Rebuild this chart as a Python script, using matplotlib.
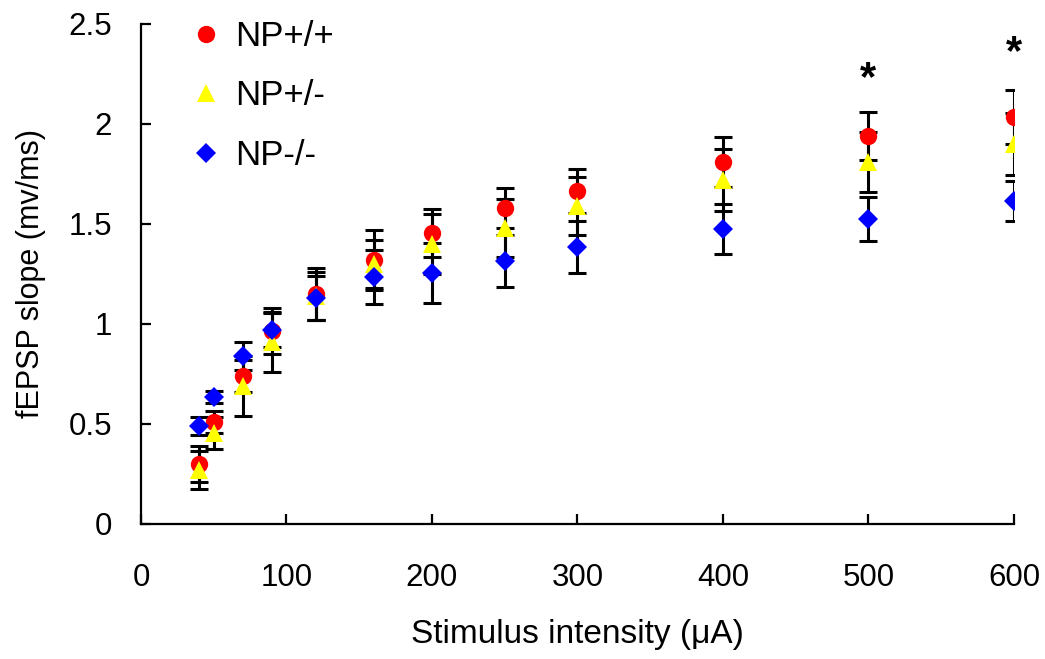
import matplotlib.pyplot as plt

plt.rcParams['font.family'] = ['Liberation Sans', 'DejaVu Sans']

# stimulus intensity (uA)
intensity = [40, 50, 70, 90, 120, 160, 200, 250, 300, 400, 500, 600]

# fEPSP slope means and errors per genotype
wt_mean = [0.30, 0.51, 0.74, 0.965, 1.15, 1.32, 1.455, 1.58, 1.665, 1.81, 1.94, 2.035]
wt_err = [0.09, 0.055, 0.08, 0.115, 0.13, 0.15, 0.12, 0.10, 0.11, 0.127, 0.12, 0.135]
het_mean = [0.27, 0.457, 0.69, 0.91, 1.14, 1.30, 1.40, 1.478, 1.59, 1.72, 1.81, 1.90]
het_err = [0.095, 0.08, 0.15, 0.15, 0.12, 0.12, 0.15, 0.145, 0.145, 0.155, 0.15, 0.155]
ko_mean = [0.49, 0.635, 0.84, 0.97, 1.13, 1.235, 1.257, 1.317, 1.385, 1.477, 1.523, 1.615]
ko_err = [0.045, 0.03, 0.07, 0.083, 0.11, 0.135, 0.15, 0.13, 0.13, 0.125, 0.11, 0.10]

# significance stars
star_x = [500, 600]
star_y = [2.225, 2.355]

labels = ["NP+/+", "NP+/-", "NP-/-"]

fig = plt.figure(figsize=(10.45, 6.59), dpi=100)
ax = fig.add_axes([0.1349, 0.2049, 0.8354, 0.7587])

# error bars first so markers sit on top
for m, e in [(wt_mean, wt_err), (het_mean, het_err), (ko_mean, ko_err)]:
    ax.errorbar(intensity, m, yerr=e, fmt='none', ecolor='black',
                elinewidth=2.2, capsize=6.5, capthick=2.2, zorder=2)

ax.plot(intensity, wt_mean, 'o', color='#ff0000', markersize=12.5,
        markeredgewidth=0, label=labels[0], zorder=3)
ax.plot(intensity, het_mean, '^', color='#ffff00', markersize=13.5,
        markeredgewidth=0, label=labels[1], zorder=4)
ax.plot(intensity, ko_mean, 'D', color='#0000ff', markersize=10,
        markeredgewidth=0, label=labels[2], zorder=5)

for sx, sy in zip(star_x, star_y):
    ax.text(sx, sy, "*", ha='center', va='center', fontsize=30, fontweight='bold')

ax.set_xlim(0, 600)
ax.set_ylim(0, 2.5)
ax.set_xticks([0, 100, 200, 300, 400, 500, 600])
ax.set_yticks([0, 0.5, 1, 1.5, 2, 2.5])
ax.set_yticklabels(["0", "0.5", "1", "1.5", "2", "2.5"])

for s in ['top', 'right']:
    ax.spines[s].set_visible(False)
for s in ['left', 'bottom']:
    ax.spines[s].set_linewidth(1.6)

ax.tick_params(axis='both', direction='in', length=7, width=1.6, labelsize=22.5)
ax.tick_params(axis='y', pad=21)
ax.tick_params(axis='x', pad=28)

ax.set_xlabel("Stimulus intensity (μA)", fontsize=24, labelpad=19)
ax.set_ylabel("fEPSP slope (mv/ms)", fontsize=22, labelpad=16)

ax.legend(loc='upper left', bbox_to_anchor=(0.035, 1.036), frameon=False,
          fontsize=25, labelspacing=0.76, handletextpad=0.24, handlelength=1.2,
          borderaxespad=0)

plt.savefig("out.png", dpi=100)
plt.close()
